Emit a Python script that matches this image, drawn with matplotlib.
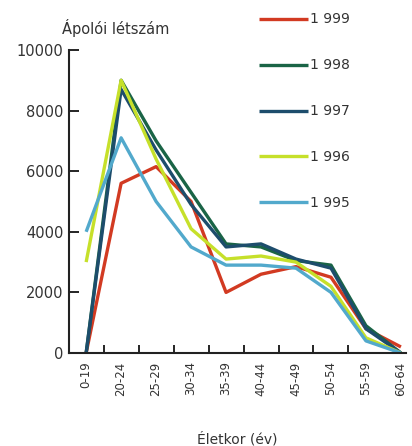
import matplotlib
matplotlib.use("Agg")
import matplotlib.pyplot as plt
import numpy as np

# Age groups on the x axis
AGE_GROUPS = ["0-19", "20-24", "25-29", "30-34", "35-39",
              "40-44", "45-49", "50-54", "55-59", "60-64"]

# Nurse headcount per age group
Y1999 = [0, 5600, 6150, 5000, 2000, 2600, 2850, 2500, 800, 200]
Y1998 = [0, 9000, 7000, 5300, 3600, 3500, 3050, 2900, 900, 0]
Y1997 = [0, 8700, 6700, 4900, 3500, 3600, 3100, 2800, 800, 0]
Y1996 = [3000, 9000, 6400, 4100, 3100, 3200, 3000, 2200, 500, 0]
Y1995 = [4000, 7100, 5000, 3500, 2900, 2900, 2800, 2000, 400, 0]

YEAR_LABELS = ["1 999", "1 998", "1 997", "1 996", "1 995"]
COLORS = ["#d23a22", "#1a6446", "#1d4d6c", "#c6e02a", "#52a9cc"]

TEXT = "#333333"

fig = plt.figure(figsize=(4.12, 4.46), dpi=100)
ax = fig.add_axes([0.1675, 0.2085, 0.8175, 0.6795])

x = np.arange(len(AGE_GROUPS))
series = [Y1999, Y1998, Y1997, Y1996, Y1995]
handles = []
for vals, col, lab in zip(series, COLORS, YEAR_LABELS):
    (ln,) = ax.plot(x, vals, color=col, linewidth=2.4, label=lab,
                    solid_capstyle="butt")
    handles.append(ln)

ax.set_xlim(-0.49, 9.14)
ax.set_ylim(0, 10000)
ax.set_yticks(np.arange(0, 10001, 2000))
ax.set_xticks(x)
ax.set_xticklabels(AGE_GROUPS, rotation=90, fontsize=8.5, color=TEXT)
ax.set_xticks(np.arange(0.5, 8, 1.0), minor=True)
ax.tick_params(axis="x", which="major", length=0, pad=6)
ax.tick_params(axis="x", which="minor", direction="in", length=6, width=1.2)
ax.tick_params(axis="y", direction="in", length=7, width=1.2,
               labelsize=10.5, labelcolor=TEXT, pad=4)

for side in ["top", "right"]:
    ax.spines[side].set_visible(False)
for side in ["left", "bottom"]:
    ax.spines[side].set_linewidth(1.5)
    ax.spines[side].set_color("#222222")

fig.text(0.28, 0.937, "Ápolói létszám", ha="center", va="center",
         fontsize=10.5, color=TEXT)
ax.set_xlabel("Életkor (év)", fontsize=10, color=TEXT, labelpad=26)

leg = fig.legend(handles=handles, loc="upper left",
                 bbox_to_anchor=(0.629, 0.972), frameon=False,
                 borderpad=0, borderaxespad=0,
                 fontsize=10, handlelength=3.5, handletextpad=0.15,
                 labelspacing=2.3, labelcolor=TEXT)

fig.savefig("out.png", dpi=100, facecolor="white")
